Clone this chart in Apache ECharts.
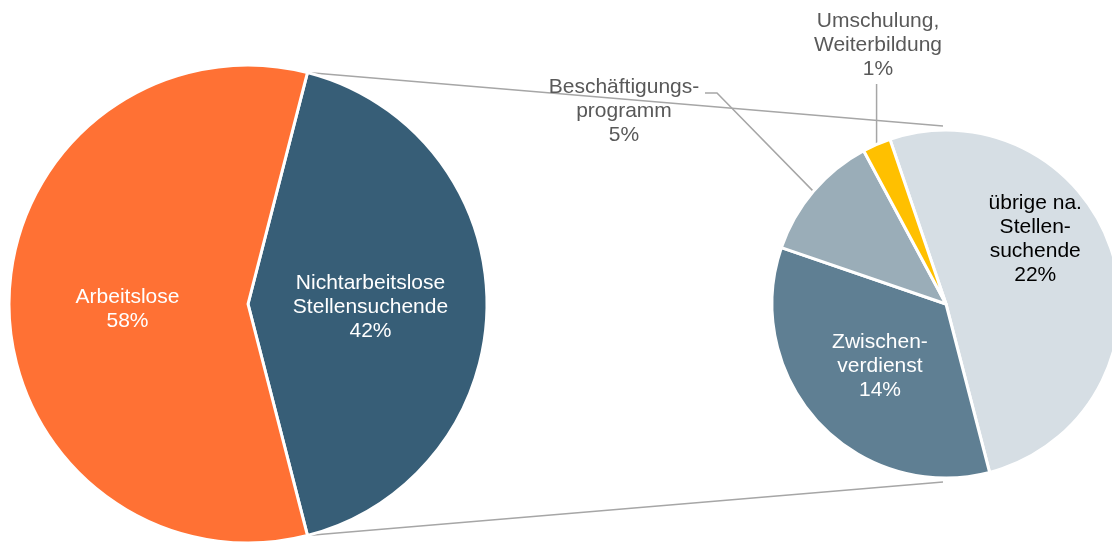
<!DOCTYPE html>
<html>
<head>
    <meta charset="UTF-8">
    <title>Stellensuchende</title>
    <script src="https://cdn.jsdelivr.net/npm/echarts@6/dist/echarts.min.js"></script>
    <style>
        html, body { margin: 0; padding: 0; background: #fff; }
    </style>
</head>
<body>
<div id="main" style="width: 1112px;height:542px;"></div>
<script type="text/javascript">
    // Hauptkreis: alle Stellensuchenden
    const mainNames = ['Nichtarbeitslose\nStellensuchende', 'Arbeitslose'];
    const mainValues = [42, 58];
    const mainColors = ['#375E77', '#FF7134'];

    // Aufteilung der nichtarbeitslosen Stellensuchenden
    const subNames = ['übrige na.\nStellen-\nsuchende', 'Zwischen-\nverdienst', 'Beschäftigungs-\nprogramm', 'Umschulung,\nWeiterbildung'];
    const subValues = [21.5, 14.4, 5.0, 1.1];
    const subColors = ['#D6DEE4', '#5F7F93', '#9AADB8', '#FFC000'];
    const subLabelColors = ['#000000', '#ffffff', '#595959', '#595959'];

    // Geometrie
    const L = {cx: 248, cy: 304, r: 239};
    const R = {cx: 946, cy: 304, r: 174, start: 108.8};
    const FONT = 'Arial, "Liberation Sans", sans-serif';
    const LINE = '#A6A6A6';

    const mainTotal = mainValues.reduce((s, v) => s + v, 0);
    const subTotal = subValues.reduce((s, v) => s + v, 0);
    const mainStart = mainValues[0] / mainTotal * 360 / 2;

    // Mittelpunkt eines Segments am Rand des rechten Kreises
    function subEdgePoint(i) {
        let cum = 0;
        for (let k = 0; k < i; k++) cum += subValues[k];
        let a0 = R.start - cum / subTotal * 360;
        let a1 = a0 - subValues[i] / subTotal * 360;
        let mid = (a0 + a1) / 2 * Math.PI / 180;
        return [R.cx + R.r * Math.cos(mid), R.cy - R.r * Math.sin(mid)];
    }

    // Positionen der Aussenbeschriftungen (Mitte des Textblocks)
    const outsideLabelPos = {2: [624, 111], 3: [878, 45]};

    var myChart = echarts.init(document.getElementById('main'));

    let a = mainStart * Math.PI / 180;
    let p1 = [L.cx + L.r * Math.cos(a), L.cy - L.r * Math.sin(a)];
    let p2 = [L.cx + L.r * Math.cos(a), L.cy + L.r * Math.sin(a)];

    let option = {
        animation: false,
        textStyle: {fontFamily: FONT},
        graphic: [
            {
                type: 'line',
                shape: {x1: p1[0], y1: p1[1], x2: R.cx - 3, y2: R.cy - R.r - 4},
                style: {stroke: LINE, lineWidth: 1.5}
            },
            {
                type: 'line',
                shape: {x1: p2[0], y1: p2[1], x2: R.cx - 3, y2: R.cy + R.r + 4},
                style: {stroke: LINE, lineWidth: 1.5}
            }
        ],
        series: [
            {
                type: 'pie',
                center: [L.cx, L.cy],
                radius: [0, L.r],
                startAngle: mainStart,
                clockwise: true,
                itemStyle: {borderColor: '#fff', borderWidth: 3},
                label: {
                    position: 'inside',
                    color: '#fff',
                    fontSize: 21,
                    lineHeight: 24,
                    fontFamily: FONT,
                    formatter: p => p.name + '\n' + Math.round(p.value) + '%'
                },
                labelLayout: function (params) {
                    if (params.dataIndex === 1) return {dx: 2, dy: 5};
                    return {dy: 3};
                },
                emphasis: {disabled: true},
                data: mainNames.map((n, i) => ({name: n, value: mainValues[i], itemStyle: {color: mainColors[i]}}))
            },
            {
                type: 'pie',
                center: [R.cx, R.cy],
                radius: [0, R.r],
                startAngle: R.start,
                clockwise: true,
                itemStyle: {borderColor: '#fff', borderWidth: 3},
                label: {
                    fontSize: 21,
                    lineHeight: 24,
                    fontFamily: FONT,
                    formatter: p => p.name + '\n' + Math.round(p.value) + '%'
                },
                labelLine: {lineStyle: {color: LINE, width: 1.5}},
                labelLayout: function (params) {
                    let i = params.dataIndex;
                    if (i === 0) return {dx: 3, dy: -39};
                    if (i === 1) return {dy: 1};
                    let pos = outsideLabelPos[i];
                    if (!pos) return {};
                    let e = subEdgePoint(i);
                    let pts;
                    if (i === 2) {
                        pts = [e, [pos[0] + 93, pos[1] - 18], [pos[0] + 81, pos[1] - 18]];
                    } else {
                        pts = [e, [e[0], pos[1] + 39], [e[0], pos[1] + 39]];
                    }
                    return {x: pos[0], y: pos[1], align: 'center', verticalAlign: 'middle', labelLinePoints: pts};
                },
                emphasis: {disabled: true},
                data: subNames.map((n, i) => ({
                    name: n,
                    value: subValues[i],
                    itemStyle: {color: subColors[i]},
                    label: {
                        position: i < 2 ? 'inside' : 'outside',
                        color: subLabelColors[i]
                    },
                    labelLine: {show: i >= 2}
                }))
            }
        ]
    };

    myChart.setOption(option);
</script>
</body>
</html>
